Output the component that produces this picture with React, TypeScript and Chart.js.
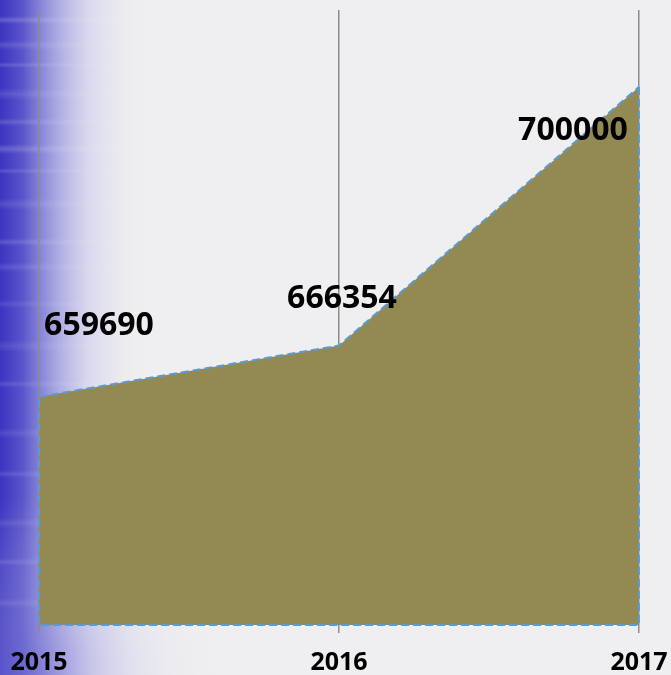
import React, { useEffect, useRef } from "react";
import { Chart, registerables } from "chart.js";

Chart.register(...registerables);

const categories = ["2015", "2016", "2017"];
const values = [659690, 666354, 700000];
const valueLabels = ["659690", "666354", "700000"];
const yMin = 630000;
const yMax = 710000;

// label placement relative to each point (style only)
const labelOffsets = [
  { dx: 60, dy: -62 },
  { dx: 3, dy: -38 },
  { dx: -66, dy: 53 },
];

const streaks = [
  { y: 16, h: 8, a: 0.2 },
  { y: 40, h: 10, a: 0.14 },
  { y: 62, h: 6, a: 0.16 },
  { y: 88, h: 12, a: 0.12 },
  { y: 118, h: 8, a: 0.16 },
  { y: 144, h: 10, a: 0.2 },
  { y: 168, h: 6, a: 0.14 },
  { y: 198, h: 12, a: 0.12 },
  { y: 238, h: 8, a: 0.16 },
  { y: 262, h: 10, a: 0.12 },
  { y: 300, h: 8, a: 0.1 },
  { y: 340, h: 12, a: 0.1 },
  { y: 380, h: 8, a: 0.12 },
  { y: 428, h: 10, a: 0.1 },
  { y: 470, h: 8, a: 0.12 },
  { y: 518, h: 10, a: 0.1 },
  { y: 558, h: 8, a: 0.12 },
  { y: 598, h: 10, a: 0.1 },
];

const bgPlugin = {
  id: "bgPlugin",
  beforeDraw(chart: any) {
    const { ctx, width, height } = chart;
    ctx.save();
    ctx.fillStyle = "#efeff1";
    ctx.fillRect(0, 0, width, height);
    const g = ctx.createLinearGradient(0, 0, 150, 0);
    g.addColorStop(0, "rgba(58,52,192,1)");
    g.addColorStop(0.15, "rgba(72,68,198,0.9)");
    g.addColorStop(0.35, "rgba(110,106,212,0.6)");
    g.addColorStop(0.6, "rgba(170,168,230,0.3)");
    g.addColorStop(1, "rgba(239,239,241,0)");
    ctx.fillStyle = g;
    ctx.fillRect(0, 0, 150, height);
    const rg = ctx.createRadialGradient(40, 675, 0, 40, 675, 180);
    rg.addColorStop(0, "rgba(120,115,215,0.45)");
    rg.addColorStop(1, "rgba(239,239,241,0)");
    ctx.fillStyle = rg;
    ctx.fillRect(0, 675 - 180, 240, 180);
    for (const s of streaks) {
      for (let r = 0; r < s.h; r++) {
        const t = 1 - Math.abs((r + 0.5) / s.h - 0.5) * 2;
        const a = s.a * t;
        const sg = ctx.createLinearGradient(0, 0, 140, 0);
        sg.addColorStop(0, `rgba(255,255,255,${a})`);
        sg.addColorStop(1, "rgba(255,255,255,0)");
        ctx.fillStyle = sg;
        ctx.fillRect(0, s.y + r, 140, 1);
      }
    }
    ctx.restore();
  },
};

const outlinePlugin = {
  id: "outlinePlugin",
  afterDatasetsDraw(chart: any) {
    const { ctx } = chart;
    const meta = chart.getDatasetMeta(0);
    const pts = meta.data;
    const yBase = chart.scales.y.getPixelForValue(yMin);
    ctx.save();
    ctx.strokeStyle = "#5b9bd5";
    ctx.lineWidth = 2;
    ctx.setLineDash([8, 4]);
    ctx.beginPath();
    ctx.moveTo(pts[pts.length - 1].x, pts[pts.length - 1].y);
    ctx.lineTo(pts[pts.length - 1].x, yBase);
    ctx.lineTo(pts[0].x, yBase);
    ctx.lineTo(pts[0].x, pts[0].y);
    ctx.stroke();
    ctx.restore();

    ctx.save();
    ctx.font = "bold 32px 'Open Sans'";
    ctx.fillStyle = "#000";
    ctx.textAlign = "center";
    ctx.textBaseline = "alphabetic";
    pts.forEach((p: any, i: number) => {
      const o = labelOffsets[i];
      ctx.fillText(valueLabels[i], p.x + o.dx, p.y + o.dy);
    });
    ctx.restore();
  },
};

export default function App() {
  const ref = useRef<HTMLCanvasElement>(null);
  useEffect(() => {
    if (!ref.current) return;
    const chart = new Chart(ref.current, {
      type: "line",
      data: {
        labels: categories,
        datasets: [
          {
            data: values,
            fill: "origin",
            backgroundColor: "#938a53",
            borderColor: "#5b9bd5",
            borderWidth: 2,
            borderDash: [8, 4],
            pointRadius: 0,
            tension: 0,
          },
        ],
      },
      options: {
        animation: false,
        responsive: true,
        maintainAspectRatio: false,
        layout: { padding: { left: 39, right: 32, top: 10, bottom: 0 } },
        plugins: { legend: { display: false }, tooltip: { enabled: false } },
        scales: {
          x: {
            offset: false,
            border: { display: false },
            afterFit(scale: any) {
              scale.paddingLeft = 0;
              scale.paddingRight = 0;
            },
            grid: {
              display: true,
              color: "#8c8c8c",
              lineWidth: 1.5,
              drawOnChartArea: true,
              drawTicks: true,
              tickLength: 8,
            },
            ticks: {
              color: "#000",
              font: { family: "'Open Sans'", size: 25, weight: "bold" },
              padding: 15,
              maxRotation: 0,
              autoSkip: false,
            },
          },
          y: {
            display: false,
            min: yMin,
            max: yMax,
          },
        },
      },
      plugins: [bgPlugin, outlinePlugin],
    });
    return () => chart.destroy();
  }, []);
  return (
    <div style={{ position: "absolute", left: 0, top: 0, width: 671, height: 675, overflow: "hidden" }}>
      <div style={{ position: "relative", width: 671, height: 693 }}>
        <canvas ref={ref} />
      </div>
    </div>
  );
}
